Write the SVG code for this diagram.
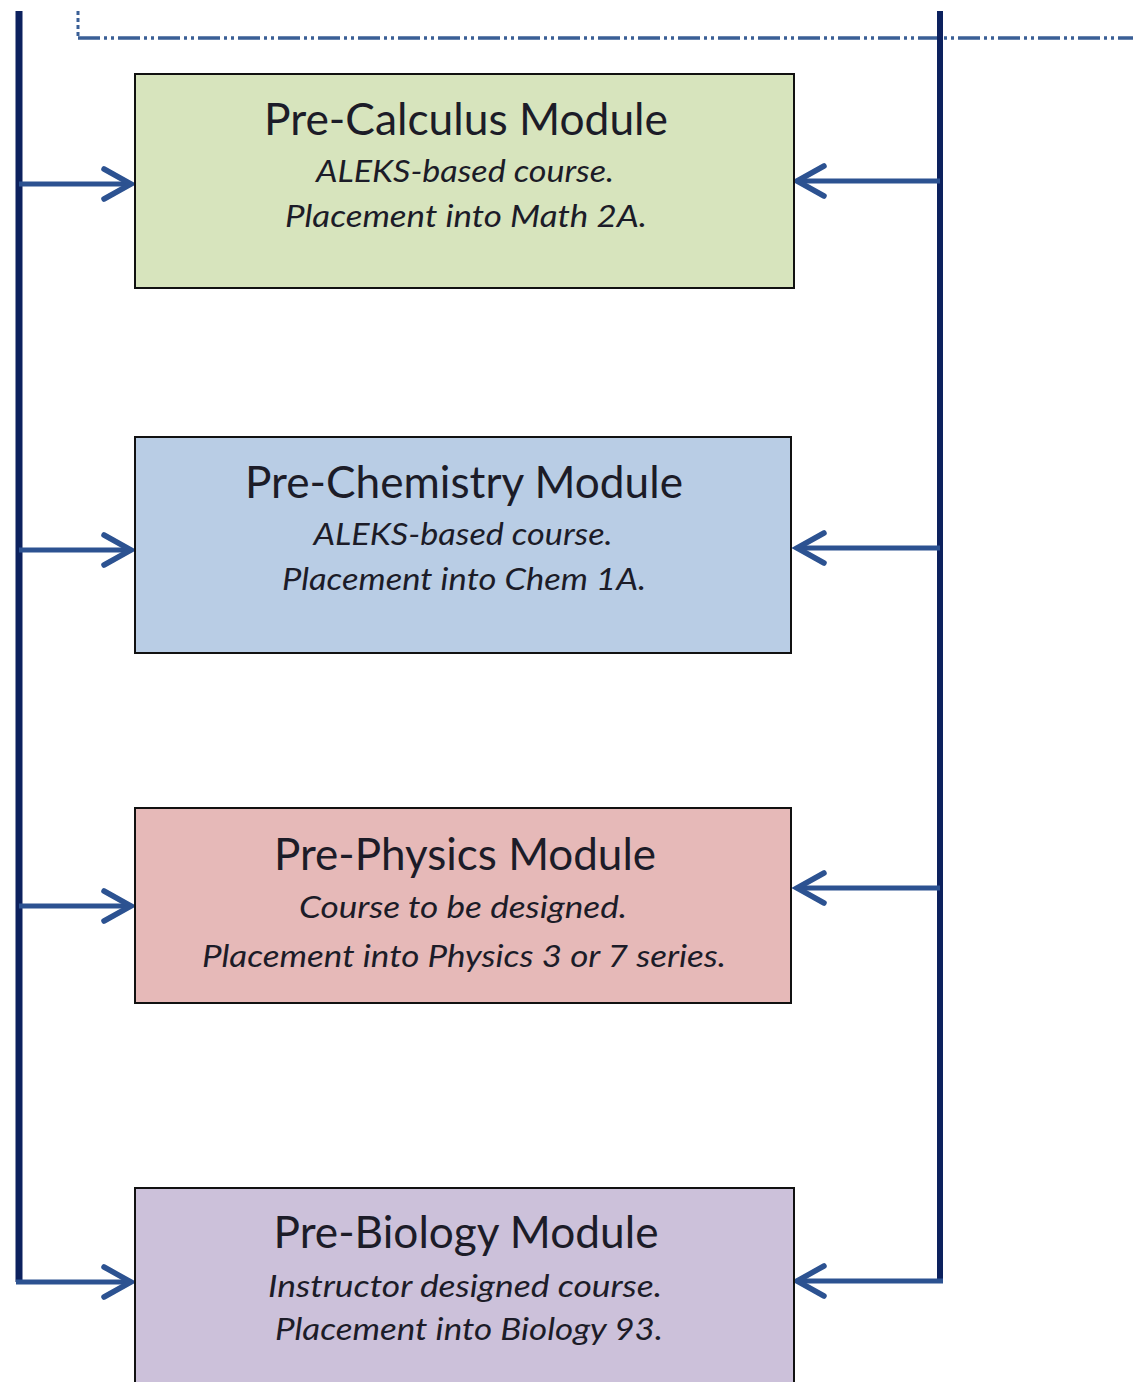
<svg xmlns="http://www.w3.org/2000/svg" width="1133" height="1382" viewBox="0 0 1133 1382">
<style>
.box{stroke:#111;stroke-width:2}
.title{font-family:"Lato","Open Sans","Liberation Sans",sans-serif;font-size:44px;fill:#1c1c28;text-anchor:middle}
.sub{font-family:"Lato","Open Sans","Liberation Sans",sans-serif;font-size:30px;font-style:italic;fill:#1c1c28;text-anchor:middle}
.trunk{stroke:#0c215e;fill:none}
.arr{stroke:#2c5291;stroke-width:5;fill:none}
</style>
<defs>
<marker id="head" markerUnits="userSpaceOnUse" markerWidth="44" markerHeight="44" viewBox="-38 -22 44 44" refX="0" refY="0" orient="auto">
<path d="M-27,-15 L0,0 L-27,15" fill="none" stroke="#2c5291" stroke-width="5.5" stroke-linecap="round" stroke-linejoin="miter"/>
</marker>
</defs>
<rect width="1133" height="1382" fill="#ffffff"/>

<g id="connectors">
<path d="M78,11 V38" stroke="#3a5f96" stroke-width="3" stroke-dasharray="4 3" fill="none"/>
<path d="M78,38 H1133" stroke="#3a5f96" stroke-width="3.5" stroke-dasharray="22 4 3 4 3 4" fill="none"/>
<path class="trunk" d="M19,11 V1282" stroke-width="7"/>
<path class="trunk" d="M940,11 V1282" stroke-width="6"/>
<path class="arr" d="M19,184 H131" marker-end="url(#head)"/>
<path class="arr" d="M19,550 H131" marker-end="url(#head)"/>
<path class="arr" d="M19,906 H131" marker-end="url(#head)"/>
<path class="arr" d="M16,1282 H131" marker-end="url(#head)"/>
<path class="arr" d="M940,181 H797" marker-end="url(#head)"/>
<path class="arr" d="M940,548 H797" marker-end="url(#head)"/>
<path class="arr" d="M940,888 H797" marker-end="url(#head)"/>
<path class="arr" d="M943,1281 H797" marker-end="url(#head)"/>
</g>

<g id="pre-calculus">
<rect class="box" x="135" y="74" width="659" height="214" fill="#d7e4bd"/>
<text class="title" x="466" y="135" textLength="404" lengthAdjust="spacingAndGlyphs">Pre-Calculus Module</text>
<text class="sub" x="465" y="182" textLength="298" lengthAdjust="spacingAndGlyphs">ALEKS-based course.</text>
<text class="sub" x="466" y="227" textLength="362" lengthAdjust="spacingAndGlyphs">Placement into Math 2A.</text>
</g>

<g id="pre-chemistry">
<rect class="box" x="135" y="437" width="656" height="216" fill="#b9cde5"/>
<text class="title" x="464" y="498" textLength="438" lengthAdjust="spacingAndGlyphs">Pre-Chemistry Module</text>
<text class="sub" x="463" y="545" textLength="299" lengthAdjust="spacingAndGlyphs">ALEKS-based course.</text>
<text class="sub" x="464" y="590" textLength="364" lengthAdjust="spacingAndGlyphs">Placement into Chem 1A.</text>
</g>

<g id="pre-physics">
<rect class="box" x="135" y="808" width="656" height="195" fill="#e6b9b8"/>
<text class="title" x="465" y="870" textLength="382" lengthAdjust="spacingAndGlyphs">Pre-Physics Module</text>
<text class="sub" x="463" y="918" textLength="328" lengthAdjust="spacingAndGlyphs">Course to be designed.</text>
<text class="sub" x="464" y="967" textLength="524" lengthAdjust="spacingAndGlyphs">Placement into Physics 3 or 7 series.</text>
</g>

<g id="pre-biology">
<rect class="box" x="135" y="1188" width="659" height="210" fill="#ccc1da"/>
<text class="title" x="466" y="1248" textLength="385" lengthAdjust="spacingAndGlyphs">Pre-Biology Module</text>
<text class="sub" x="465" y="1297" textLength="394" lengthAdjust="spacingAndGlyphs">Instructor designed course.</text>
<text class="sub" x="469" y="1340" textLength="388" lengthAdjust="spacingAndGlyphs">Placement into Biology 93.</text>
</g>
</svg>
